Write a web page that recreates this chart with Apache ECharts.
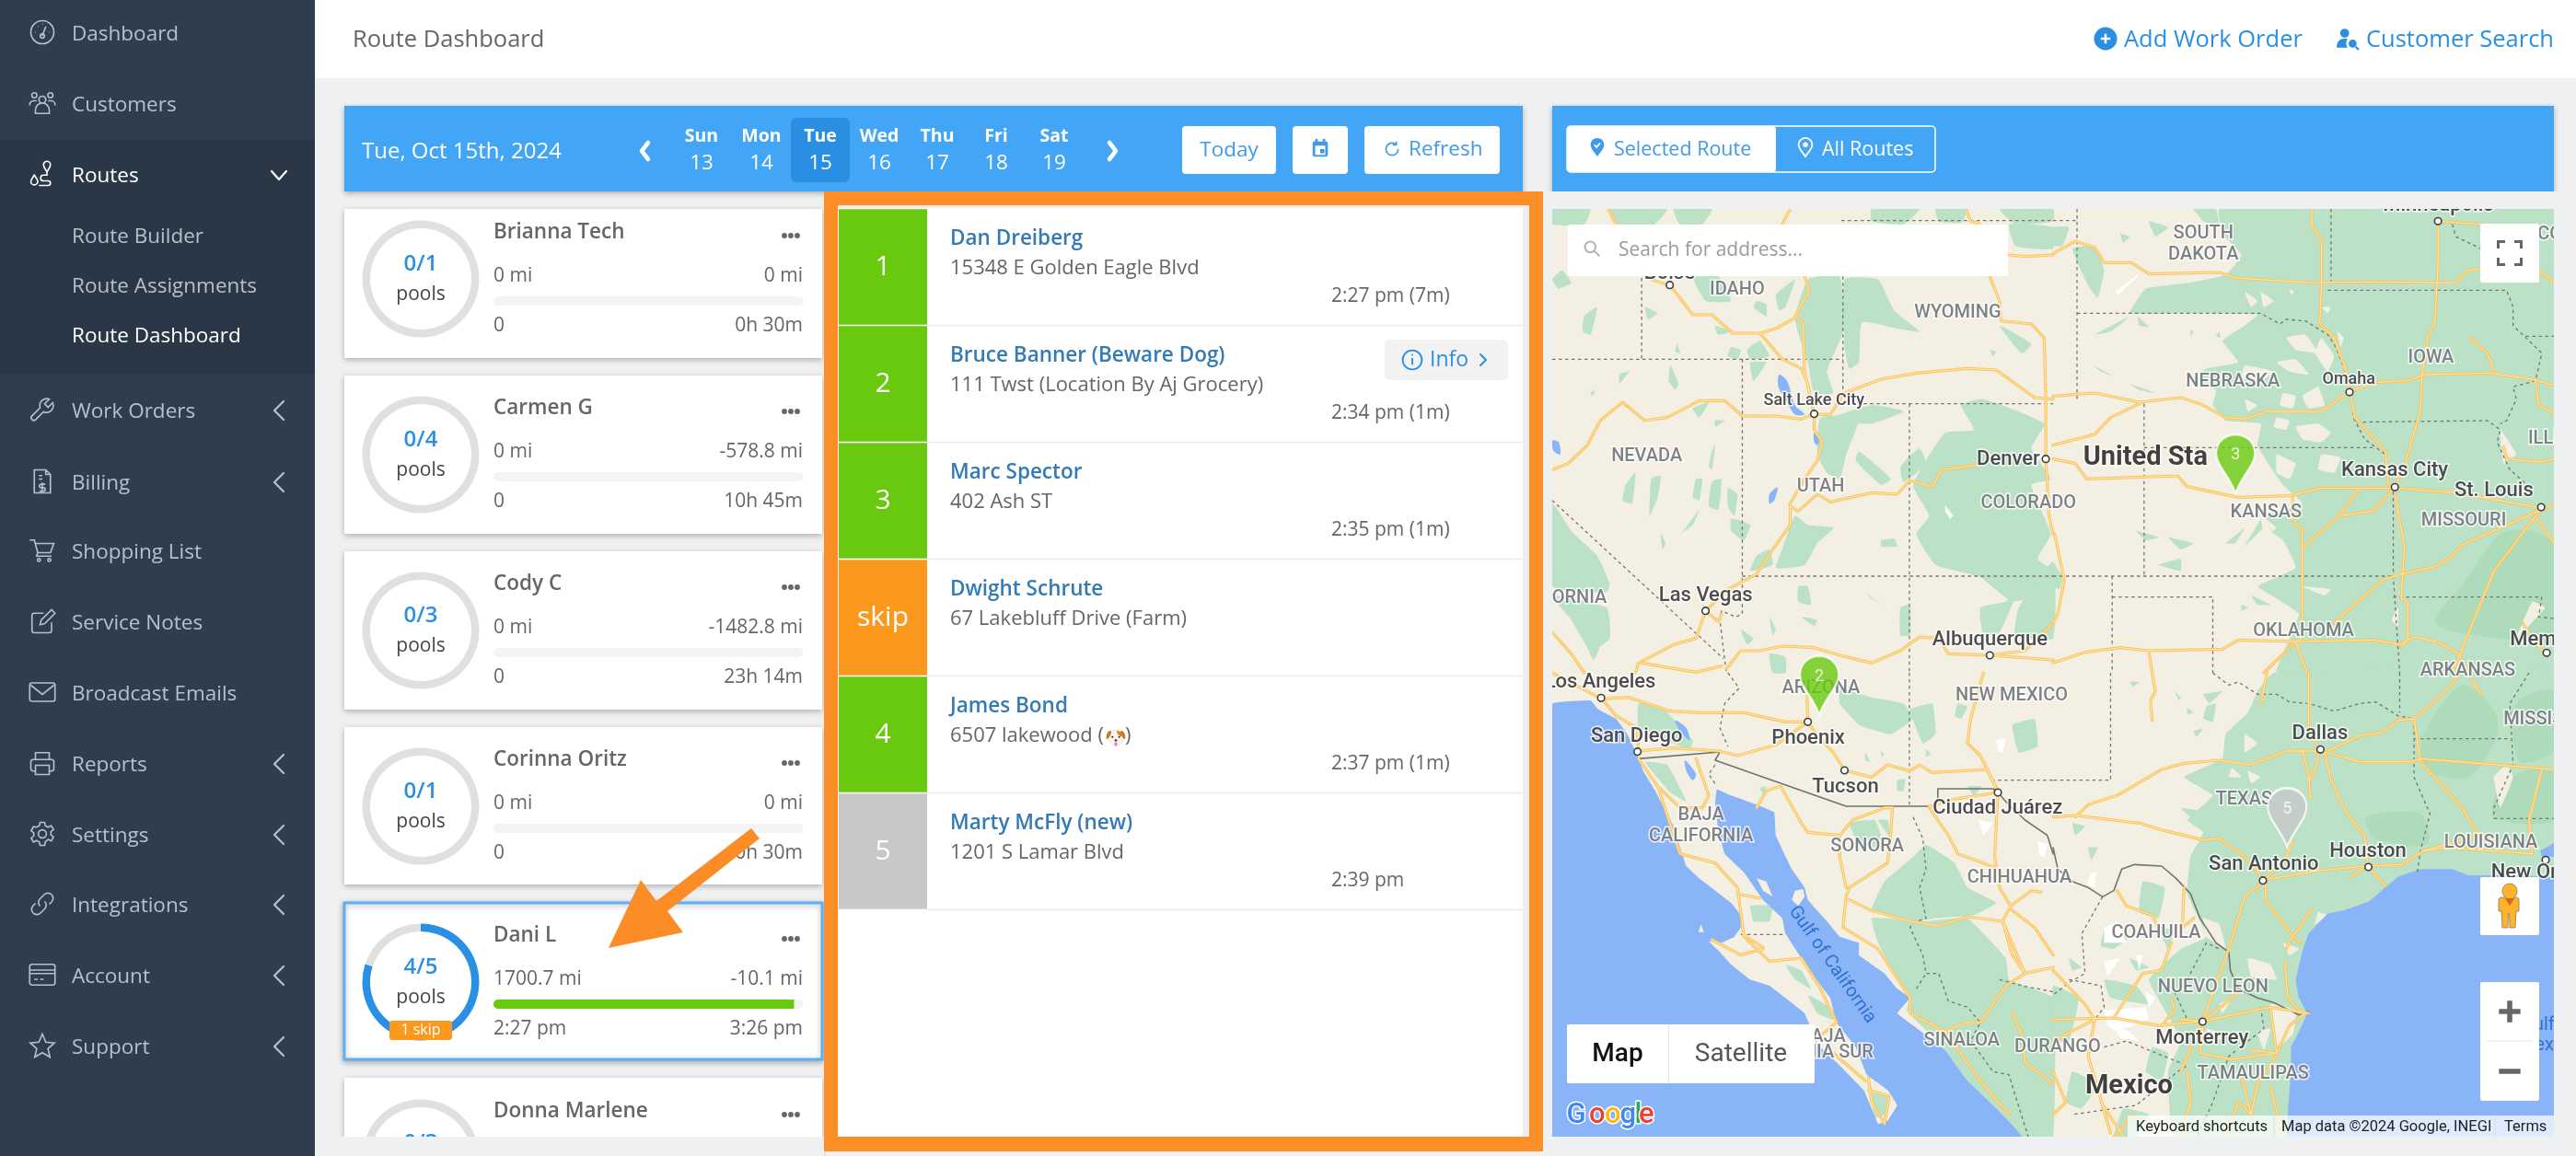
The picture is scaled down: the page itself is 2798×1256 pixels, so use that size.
<!DOCTYPE html>
<html>
<head>
<meta charset="utf-8">
<title>Route Dashboard</title>
<style>html,body{margin:0;padding:0;background:#eff0f1}#main{width:2798px;height:1256px}</style>
<script src="https://cdn.jsdelivr.net/npm/echarts@6/dist/echarts.min.js"></script>
</head>
<body>
<div id="main"></div>
<script>
// sidebar
var navLabels=['Dashboard','Customers','Routes','Route Builder','Route Assignments','Route Dashboard','Work Orders','Billing','Shopping List','Service Notes','Broadcast Emails','Reports','Settings','Integrations','Account','Support'];
// week strip
var dayNames=['Sun','Mon','Tue','Wed','Thu','Fri','Sat'];
var dayNums=['13','14','15','16','17','18','19'];
// route cards
var drivers=['Brianna Tech','Carmen G','Cody C','Corinna Oritz','Dani L','Donna Marlene'];
var poolsDone=[0,0,0,0,4,0];
var poolsTotal=[1,4,3,1,5,3];
var milesDone=['0 mi','0 mi','0 mi','0 mi','1700.7 mi',''];
var milesLeft=['0 mi','-578.8 mi','-1482.8 mi','0 mi','-10.1 mi',''];
var timeStart=['0','0','0','0','2:27 pm',''];
var timeEnd=['0h 30m','10h 45m','23h 14m','0h 30m','3:26 pm',''];
var routeProgress=[0,0,0,0,97,0];
// stops of the selected route
var stopOrder=['1','2','3','skip','4','5'];
var stopCell=[1,1,1,1,1,1];
var stopColors=['#69c90e','#69c90e','#69c90e','#fb991e','#69c90e','#c8c8c8'];
var stopNames=['Dan Dreiberg','Bruce Banner (Beware Dog)','Marc Spector','Dwight Schrute','James Bond','Marty McFly (new)'];
var stopAddress=['15348 E Golden Eagle Blvd','111 Twst (Location By Aj Grocery)','402 Ash ST','67 Lakebluff Drive (Farm)','6507 lakewood (','1201 S Lamar Blvd'];
var stopTimes=['2:27 pm (7m)','2:34 pm (1m)','2:35 pm (1m)','','2:37 pm (1m)','2:39 pm'];
// map pins, lon / lat
var pinLabels=['3','2','5'];
var pinLon=[-99.32,-111.74,-97.78];
var pinLat=[39.15,33.73,30.49];
var pinColors=['#69c90e','#69c90e','#c8c8c8'];
// map labels, lon / lat
var stateNames=['SOUTH\nDAKOTA','IDAHO','WYOMING','IOWA','NEBRASKA','NEVADA','UTAH','COLORADO','KANSAS','MISSOURI','ILLINOIS','WISCONSIN','ORNIA','OKLAHOMA','ARKANSAS','ARIZONA','NEW MEXICO','MISSISSIPPI','TEXAS','BAJA\nCALIFORNIA','SONORA','CHIHUAHUA','LOUISIANA','COAHUILA','NUEVO LEON','SINALOA','DURANGO','BAJA','CALIFORNIA SUR','TAMAULIPAS'];
var stateLon=[-100.28,-114.19,-107.61,-93.49,-99.40,-116.89,-111.70,-105.50,-98.41,-92.51,-89.51,-89.79,-118.90,-97.29,-92.39,-111.69,-106.00,-89.76,-99.07,-115.27,-110.31,-105.77,-91.70,-101.69,-99.99,-107.49,-104.63,-111.64,-112.27,-98.80];
var stateLat=[45.16,44.03,43.48,42.36,41.79,39.95,39.21,38.80,38.58,38.38,40.38,45.39,36.50,35.69,34.70,34.29,34.10,33.51,31.55,30.92,30.40,29.63,30.49,28.30,26.95,25.65,25.49,25.74,25.35,24.85];
var cityNames=['Denver','Kansas City','St. Louis','Minneapolis','Boise','Las Vegas','Albuquerque','Memphis','Los Angeles','San Diego','Phoenix','Dallas','Tucson','Ciudad Juárez','Houston','San Antonio','New Orleans','Monterrey'];
var cityLon=[-106.10,-94.57,-91.61,-93.27,-116.21,-115.13,-106.65,-89.87,-118.28,-117.19,-112.07,-96.80,-110.96,-106.42,-95.37,-98.48,-89.98,-100.32];
var cityLat=[39.88,39.60,39.12,46.10,44.44,36.55,35.46,35.46,34.43,33.10,33.05,33.17,31.87,31.34,30.28,29.96,29.76,25.72];
var townNames=['Salt Lake City','Omaha'];
var townLon=[-111.90,-95.94];
var townLat=[41.32,41.85];
var bigNames=['United Sta','Mexico'];
var bigLon=[-102.01,-102.50];
var bigLat=[39.92,24.54];

// A top left, B top right, C bottom left, D bottom right
var greenA=[
 [800,230,900,220,910,400,860,530,880,600,820,600,800,500,760,360],[915,230,1020,230,1070,330,1150,400,1080,390,970,370,960,500,930,520,915,450],[840,680,960,680,920,800,900,880,860,860,830,800],[850,690,1000,640,1100,660,1000,700,950,700],[960,790,1060,880,1030,900,950,820],[1090,840,1150,780,1170,830,1100,890],
 [1280,640,1350,620,1540,700,1500,780,1560,880,1500,900,1560,1060,1520,1140,1568,1180,1568,1240,1440,1280,1340,1200,1200,1160,1140,1060,1180,1000,1130,900,1230,730,1320,720],
 [720,1110,760,1000,800,1030,880,1040,830,1090,790,1160,700,1170],[640,1130,680,1110,690,1160,620,1180],[1030,1080,1070,1075,1080,1100,1030,1100],
 [500,790,510,770,500,850,490,840],[230,900,260,860,250,960,220,950],[310,880,340,870,330,940,305,1000],[450,880,470,880,460,950,440,940],[500,890,530,880,520,980,490,970],[550,910,580,930,570,1000,550,970],[560,1010,620,1030,600,1080,560,1050],[410,1050,460,980,440,1030,400,1060],[340,1060,355,1090,345,1110],[210,540,240,530,210,570],[370,510,395,570,385,590,365,560],[120,600,135,590,125,610],[440,650,490,630,460,680],[510,690,540,690,510,710],
 [290,320,330,340,300,360],[100,350,140,320,120,410,95,400],[640,300,670,310,670,350,630,320],[510,380,560,400,520,410],[390,440,400,470,385,465],[560,450,590,460,580,490,550,480],[610,460,650,430,680,480,620,490],[620,500,670,500,630,560],[440,220,520,220,560,300,480,300],[700,280,760,230,730,320,710,330],[0,230,30,200,60,240,20,260],
 [0,0,120,0,100,50,0,50],[180,0,360,0,320,50,200,50],[380,0,500,0,470,50,400,50],[1000,0,1150,0,1100,50,1000,40],[1200,0,1300,0,1280,45,1210,40],[1400,0,1568,0,1568,40,1450,50],[1430,50,1568,60,1568,130,1450,120],[1400,380,1500,440,1470,470],[1370,460,1390,465,1380,480],
 [0,960,60,1050,140,1130,180,1220,170,1250,0,1230],[0,1260,170,1300,180,1400,120,1440,60,1340],[100,1400,150,1420,130,1470],[770,1230,800,1230,810,1290,770,1280],[780,1330,830,1340,820,1360],[680,1330,700,1370,690,1390],[1090,1300,1120,1290,1120,1390,1090,1390],[680,1450,730,1460,730,1512,690,1512],[590,1370,630,1400,610,1420],[980,1250,1030,1290,1000,1270],[1340,1300,1420,1280,1450,1260,1400,1380,1350,1390],[1460,1300,1568,1150,1568,1400,1450,1390]
];
var greenB=[
 [520,0,1568,0,1568,1512,700,1512,740,1400,770,1320,700,1270,640,1230,760,1170,720,1080,660,1040,600,1100,660,1000,780,960,720,900,680,840,640,770,650,700,540,690,500,640,510,590,430,560,480,520,580,500,530,430,600,380,640,345,400,340,240,340,290,260,430,240,540,215,590,150,530,80],
 [0,60,50,60,30,120,0,120],[60,130,130,120,160,200,140,290,110,250],[130,410,240,350,180,400],[210,80,240,90,220,110],[300,40,360,60,320,90],[440,0,510,0,520,60,470,40],[125,510,190,545,150,530],[240,570,320,600,270,590],[360,1070,440,1090,400,1110],[260,1050,330,1070,290,1080],[330,1160,400,1140,400,1180],[540,1090,600,1040,570,1090],[620,1260,680,1290,640,1290],[590,1290,610,1300,590,1310],[0,1150,30,1200,20,1240,0,1230],[430,395,440,400,430,415],[520,400,525,420,510,415],[265,350,300,385,270,380]
];
var darkB=[[1300,1200,1400,1060,1500,1050,1568,1100,1568,1400,1400,1400,1200,1350]];
var beigeB=[[730,420,790,410,830,470,760,460],[840,420,880,480,860,530,820,470],[700,500,760,490,800,540,740,530],[600,510,690,530,640,570,590,550],[780,610,830,580,850,640,800,650],[720,600,760,610,750,650,710,640],[600,620,640,640,610,660],[760,710,830,700,840,760,780,750],[700,680,740,690,730,720,690,710],[830,700,870,730,840,760],[700,800,760,830,740,880,700,860],[840,800,900,810,880,860,830,850],[890,400,910,420,900,450],[840,320,870,320,860,340],[600,270,640,300,620,320],[650,270,690,300,660,320],[740,260,755,270,745,280],[650,1000,700,1040,660,1060],[780,1230,870,1240,850,1260],[1400,720,1450,800,1410,830],[1500,1280,1540,1300,1450,1400],[1080,1300,1060,1340,1080,1360]];
var greenC=[
 [1000,770,1040,680,1130,600,1170,560,1260,620,1300,700,1390,750,1320,790,1200,800,1130,810,1060,790],[1000,800,1170,810,1300,800,1420,930,1430,1000,1568,1060,1568,1512,1470,1512,1300,1330,1230,1230,1110,1100,1120,1060,1060,960,1020,880],
 [900,50,1000,80,1100,100,1130,150,1060,200,960,170,900,100],[1120,120,1190,100,1200,200,1160,230],[1440,170,1510,150,1520,240,1460,260],[1270,100,1300,110,1280,150,1260,140],[620,760,690,760,680,810,630,810],[730,950,780,970,810,1030,760,1000],[800,1050,870,1090,880,1130,830,1110],[1000,1370,1050,1380,1040,1440,1010,1450],[290,290,360,300,420,420,370,390],[930,490,1010,480,1040,570,960,560],[1020,480,1050,480,1060,540],[270,100,340,110,440,220,430,250,270,180],[1080,350,1105,345,1100,385,1080,385],[650,375,670,370,660,395],[980,260,995,290,980,285],[1030,255,1040,265,1030,275],[1170,250,1185,265,1170,275],[1300,370,1345,370,1320,400]
];
var greenD=[
 [690,0,1568,0,1568,800,780,1512,380,1512,360,1300,400,1200,350,1100,300,1000,400,900,480,860,420,720,430,600,470,520,420,480,500,400,410,340,530,280,540,200,610,130,640,60],
 [240,30,270,30,250,45],[470,70,530,60,490,100],[380,60,400,80,395,90],[480,110,510,100,500,160,470,150],[420,115,440,130,420,135],[440,190,470,180,450,210],[400,440,460,450,430,470],[60,490,100,500,70,530],[110,570,140,570,120,610],[280,680,350,700,330,800,270,780],[160,840,240,860,190,900,150,890],[50,930,90,960,60,970],[240,930,300,960,260,970],[330,830,380,840,360,900],[0,1020,80,1060,50,1200,0,1200],[160,1000,260,1020,300,1080,180,1060],[60,1300,140,1340,90,1420,40,1400],[220,1420,300,1440,260,1512,190,1512],[310,1220,360,1240,340,1330,290,1300]
];
var darkD=[[1160,200,1280,40,1380,120,1390,200,1300,340,1160,310],[980,470,1150,460,1170,560,1010,540],[1450,100,1568,60,1568,250,1460,290],[1400,370,1500,310,1568,320,1568,480,1380,470]];
var beigeD=[[610,930,680,950,700,1000,620,990],[470,800,520,820,540,900,480,860],[680,1080,760,1100,750,1180,700,1220],[540,610,580,620,560,650],[560,310,590,340,550,340],[610,320,650,340,620,360],[720,880,770,900,740,920],[1380,340,1420,300,1440,340,1400,440],[600,200,640,230,600,260],[830,780,860,790,820,820],[520,1080,560,1060,530,1110],[640,1170,680,1160,660,1230],[480,1160,540,1180,500,1210]];
var whiteD=[[160,830,200,810,230,880,160,880],[160,1100,290,1090,300,1130,200,1170,170,1150],[190,1150,240,1170,270,1200,210,1190],[120,655,135,650,130,700,105,690],[260,920,280,920,270,970],[160,940,210,930,170,990],[290,1040,320,1060,300,1090]];
var whiteC=[[1390,220,1420,215,1410,260,1395,255],[1335,480,1380,490,1350,530],[1520,550,1550,560,1540,600,1525,590]];
var whiteB=[[195,270,270,210,265,220,205,280]];
var whiteA=[[1230,965,1255,1000,1245,1010,1230,985]];
var pacific=[0,100,120,90,145,120,200,150,235,200,265,265,285,320,320,380,350,440,385,510,400,570,420,630,460,670,510,710,560,750,590,790,590,830,570,860,530,880,490,875,520,905,560,950,620,1000,680,1020,730,1060,790,1110,830,1210,900,1280,975,1360,1000,1420,1020,1470,1050,1460,1080,1410,1050,1360,985,1310,950,1220,890,1140,870,1060,820,990,780,930,730,850,720,800,660,740,600,650,540,590,520,510,510,430,515,380,560,400,640,430,695,455,700,530,750,640,790,700,800,740,860,810,900,860,960,880,960,920,1040,980,1080,1030,1120,1060,1080,1110,1130,1150,1230,1230,1300,1330,1390,1420,1470,1512,0,1512];
var islandsC=[[640,670,670,680,690,730,660,710],[760,710,785,705,790,730,770,760,750,740],[465,820,475,845,458,845]];
var gulfD=[1568,670,1400,660,1300,660,1250,640,1150,640,1080,665,1040,700,990,745,910,775,860,785,800,850,780,910,760,1000,770,1060,795,1110,770,1170,745,1220,745,1300,735,1512,1568,1512];
var lakeD=[[1525,580,1568,555,1568,600,1530,600]];
var lakesA=[[710,540,735,560,760,640,790,670,760,670,730,620,708,580],[820,730,838,750,830,770,820,760],[680,930,705,908,695,950,680,960],[0,755,20,760,25,800,5,790]];
var lakesC=[[385,155,420,180,430,220,400,190],[415,285,450,330,440,350,420,320]];
var bordersA=[[0,490,910,490],[280,225,280,490],[910,220,910,600],[905,38,1568,38],[975,635,1568,635],[1118,635,1118,1512],[595,490,595,1320,575,1330,530,1310,525,1340,540,1470,545,1512],[595,1197,1568,1197],[0,950,535,1465]];
var bordersB=[[75,0,75,630],[0,38,75,38],[75,340,650,340,710,375,730,360,790,365,860,410,885,450,915,530,935,600,940,680,975,750,1040,800],[285,778,1000,778],[285,635,285,1195],[950,695,1360,690,1400,720,1390,760,1430,850,1490,905],[860,265,1420,265,1440,320,1440,380,1530,470,1510,560,1440,580,1450,620,1420,690,1400,700],[1480,415,1568,415],[0,1197,1065,1197],[1065,900,1065,1197,1085,1512],[185,1197,185,1512],[185,1265,500,1265,500,1512],[1065,1265,1530,1265,1520,1330,1568,1335],[870,0,870,250],[1250,50,1260,90,1340,130]];
var bordersC=[[1130,470,1160,540,1170,640,1150,700,1170,800,1130,815,1120,830,1160,920,1170,980,1210,980,1240,1070,1300,1090,1340,1140,1310,1200,1380,1300,1430,1310,1450,1380,1490,1512],[1400,1000,1470,1020,1568,1040],[1140,1030,1170,980],[590,853,725,853],[550,0,585,50,540,100,525,180,550,240],[510,300,490,330,515,370],[1118,0,1118,430],[1375,350,1568,350]];
var bordersD=[[180,0,180,350,0,350],[500,0,550,40,580,30,640,70,700,70,740,95,800,100,880,125,960,100,1010,95,1080,140,1130,150],[1085,0,1085,130],[1130,215,1430,215],[1130,150,1130,340,1180,460,1150,580,1140,650],[1380,475,1568,475],[1490,0,1430,100,1440,300,1380,440,1380,475],[155,730,90,850,100,980,50,1010,0,1050],[50,1000,150,1020,160,1090,130,1130],[160,1220,230,1200,300,1230,420,1280,390,1300,260,1410,60,1440],[380,1040,420,1130],[420,1000,480,880,520,900],[650,1090,660,1160,550,1250,500,1400,450,1512]];
var mexBorderC=[270,280,525,258,510,285,920,435,1190,435,1207,410,1207,378,1380,378,1395,390,1420,420,1480,480,1550,530,1568,590];
var mexBorderD=[0,570,15,640,60,680,110,700,155,730,190,710,215,640,255,625,340,630,385,670,430,720,460,800,510,880,550,910,555,970,580,1030,640,1060,690,1075,770,1115,800,1105];
var roadsA=[
 [0,850,50,830,110,770,150,690,220,630,290,690,360,680,460,625,540,625,595,675,700,675,780,685,820,670,870,670,915,600,1030,555,1140,535,1300,520,1390,525,1510,615,1568,620],
 [310,230,370,250,440,345,500,345,565,405,650,405,700,390,760,355],[650,405,720,490,780,520,800,570,820,670],
 [790,220,805,265,760,350,785,370,790,530,820,670,820,720,845,760,830,820,790,880,745,960,745,1030,690,1110,640,1190,550,1240,480,1310,450,1400,380,1420,270,1480,260,1512],
 [745,970,770,985,830,930,870,955,1000,925,1080,930,1120,885,1190,905,1220,850,1330,835],[1370,220,1400,300,1405,365,1500,375,1540,420,1545,620,1545,810,1555,1000,1568,1060],
 [1430,150,1480,155,1568,150],[1295,0,1310,40,1340,50],[175,0,200,50],[720,50,745,0],[0,1380,60,1450,100,1512],[280,1480,450,1510,530,1490],
 [545,1500,590,1440,650,1440,720,1425,820,1430,920,1460,1000,1480,1090,1440,1150,1395,1210,1400,1240,1450,1370,1455,1568,1470],[1568,1350,1480,1440,1370,1455],[480,1310,520,1345,530,1320]
];
var roadsB=[
 [0,145,70,105,130,125,160,175,245,175,300,212,520,207,570,225,800,240,1040,238,1200,240,1260,240,1300,200,1340,195],[1520,200,1568,240],
 [0,610,130,600,270,630,400,615,460,635,540,680,600,685,670,660,840,660,920,600],[940,590,1010,565,1110,560,1160,540,1370,535,1500,555,1568,575],[0,770,130,735,180,680,280,630],
 [0,815,70,830,105,880,390,870,420,905,580,940,740,935,840,910,960,910,1070,910,1260,925,1530,975],[810,0,810,55,840,100,840,250,835,375,880,420,915,520,930,595,945,680,1040,790,1050,900],
 [1205,40,1205,180,1195,370,1175,410,1155,545,1150,660,1130,730,1100,840,1070,905],[1070,930,1100,1100,1090,1270,1110,1280,1110,1400,1090,1430],[955,915,900,995,780,1105,780,1400,760,1410,795,1512],[900,1000,1000,985,1060,920],[750,940,750,1010,780,1050,780,1105],
 [1090,1190,1200,1165,1250,1130,1280,1095,1420,1030,1520,985],[880,1350,1030,1210,1090,1190],[0,1480,100,1445,210,1430,300,1440,530,1435,580,1405,760,1410,1000,1405,1085,1420,1130,1395,1200,1410,1270,1450,1300,1512],
 [1205,40,1340,50],[1305,420,1360,470,1380,530],[1410,775,1420,815,1530,825,1568,815],[1510,560,1520,640,1568,665],[1530,985,1568,960],[1515,1010,1568,1090],[1470,1350,1500,1400,1540,1450],[300,1440,310,1512],[660,1512,760,1410],[5,1060,35,1210,15,1320,0,1350],[1530,975,1380,1180,1250,1512]
];
var roadsC=[
 [155,85,240,80,370,125,460,130,600,130,730,160,800,160],[800,160,830,205,880,260,915,318,1000,340,1050,300,1120,320,1150,300,1190,325,1360,315,1395,385],[270,255,380,245,520,255,580,270,700,235,800,160],[155,85,200,140,265,180,270,255],[800,160,795,0],[1350,0,1310,150,1300,230,1340,270,1395,385],
 [1395,390,1270,410,1180,435],[270,280,330,370,400,440,470,440,490,400,450,280],[330,370,400,590,510,620,580,700,600,860,680,940,780,930,840,1030,890,1140,820,1200],[580,720,650,735],[500,870,590,920,660,900],[600,855,660,895],
 [640,440,670,385,715,370,780,490,800,520,900,530,940,480,1040,440,1065,440,1060,520,1050,620,930,700,920,730,910,830,1020,900,1120,1060,1120,1110,1230,1170,1340,1330,1430,1440],[900,530,900,600,920,700],[930,740,1000,775,1120,810,1210,825,1300,795,1410,810],[1180,440,1240,530,1270,590,1350,620,1395,640],[1395,390,1385,600,1400,700,1435,760,1410,810,1480,980],[1435,760,1500,710,1530,715],[1435,770,1510,830,1568,920],[1480,980,1568,960],[1410,810,1440,920,1480,980,1420,1020,1340,1140,1290,1140,1230,1170],[1440,1110,1470,1180,1480,1270,1568,1340],[990,1320,1000,1400,1040,1470,1055,1380,990,1360],[880,1240,980,1330],[155,85,0,0]
];
var roadsD=[
 [70,470,110,430,200,400,340,315,410,295,520,285,620,300,730,255,840,255,960,290,1120,290,1150,280,1450,305,1568,315],[0,470,70,465,270,490,350,515,470,545,520,540,600,600,660,675,830,645,985,630,1090,625,1160,580,1330,530,1380,550],[1160,580,1230,570,1500,590],
 [800,0,800,180,835,250,820,320,800,350],[780,250,800,330,805,410],[750,550,720,620,660,675],[660,680,600,730,550,900,470,1130,400,1300],[850,260,870,350,920,460,975,530,985,630],[930,665,985,630,1040,695],[665,680,665,740,750,860,810,770],[730,900,750,860,775,880],[725,940,735,1060,780,1110],
 [860,255,960,205,1030,195,1080,155,1130,150,1230,60,1270,10],[1130,150,1150,290,1280,440,1330,525],[1530,315,1490,480,1500,590],[670,0,650,100],[310,0,320,60,305,90,310,155],[1310,20,1340,70],
 [0,1130,190,1125,330,1150,470,1135,680,1090,800,1110],[400,1130,470,1135,560,1060,580,1040],[190,1125,280,980,340,970,370,880],[440,800,405,830,410,700],[200,710,230,760,310,790,330,830],[0,970,100,1080,130,1130,110,1250,180,1500],[340,1150,380,1100,370,1060],[470,1140,460,1240,560,1260,700,1240,740,1150,790,1110],[680,1090,700,1240,620,1230],[700,1250,640,1340,620,1440],[590,1320,620,1440,580,1400,540,1512],[130,1130,0,1200],[420,1300,430,1400,400,1512],[680,1350,720,1512],[0,1300,40,1400,0,1440],[250,1440,190,1512],[150,1400,220,1512]
];
var dotsA=[368,248,480,1310,820,668,1370,1455,1545,815];
var dotsB=[1205,40,928,597,1070,907,1528,972,1545,1447];
var dotsC=[153,82,800,160,267,257,915,318,1395,390];
var dotsD=[837,250,987,633,657,677,1542,610,468,1137];

function crop(ox,oy){
  return function(a){var r=[];for(var i=0;i<a.length;i+=2){r.push([ox+a[i]/2.882,oy+a[i+1]/3]);}return r;};
}
var qA=crop(1686,227),qB=crop(2230,227),qC=crop(1686,731),qD=crop(2230,731);

var FONT='"Open Sans"';
var els=[];
function rect(x,y,w,h,fill,z,extra){
  var s={fill:fill};
  var e={type:'rect',z:z||0,shape:{x:x,y:y,width:w,height:h,r:(extra&&extra.r)||0},style:s,silent:true};
  if(extra){for(var k in extra){if(k!='r'){s[k]=extra[k];}}}
  els.push(e);
}
function text(t,x,y,font,fill,align,z,extra){
  var s={text:t,x:x,y:y+1.5,font:font,fill:fill,align:align||'left',verticalAlign:'middle'};
  if(extra){for(var k in extra){s[k]=extra[k];}}
  els.push({type:'text',z:z||1,style:s,silent:true});
}
function line(pts,stroke,w,z,dash){
  var s={stroke:stroke,lineWidth:w,fill:null,lineJoin:'round',lineCap:'round'};
  if(dash){s.lineDash=dash;s.lineCap='butt';}
  els.push({type:'polyline',z:z||1,shape:{points:pts},style:s,silent:true});
}
function poly(pts,fill,z,smooth){
  els.push({type:'polygon',z:z||0,shape:{points:pts,smooth:smooth||0},style:{fill:fill},silent:true});
}
function circle(x,y,r,fill,z,stroke,lw){
  els.push({type:'circle',z:z||1,shape:{cx:x,cy:y,r:r},style:{fill:fill,stroke:stroke||null,lineWidth:lw||0},silent:true});
}

// ---- left menu ----
rect(0,0,342,1256,'#2f3e4f',0);
rect(0,152,342,254,'#293747',0);
var navY=[36,113,190,256,310,364,446,524,599,676,753,830,907,983,1060,1137];
navLabels.forEach(function(n,i){
  var on=(n=='Routes'||n=='Route Dashboard');
  text(n,78,navY[i],'400 22.5px '+FONT,on?'#ffffff':'#b7c0ca');
});
[446,524,830,907,983,1060,1137].forEach(function(y){line([[308,y-10],[298,y],[308,y+10]],'#b7c0ca',2.2);});
line([[295,186],[303,195],[311,186]],'#ffffff',2.2);

// ---- header ----
rect(342,0,2456,85,'#ffffff',0);
text('Route Dashboard',383,42,'400 25.5px '+FONT,'#666666');
text('Add Work Order',2307,42,'400 25.5px '+FONT,'#2a8fe3','left');
text('Customer Search',2570,42,'400 25.5px '+FONT,'#2a8fe3','left');

// ---- top blue bars ----
var barShadow={shadowBlur:6,shadowColor:'rgba(0,0,0,.3)',shadowOffsetY:2};
rect(374,115,1280,93,'#42a5f5',0,barShadow);
rect(1686,115,1088,93,'#42a5f5',0,barShadow);
text('Tue, Oct 15th, 2024',393,164,'400 24px '+FONT,'#ffffff');
line([[704,155],[697,164],[704,173]],'#ffffff',4.5);
line([[1205,155],[1212,164],[1205,173]],'#ffffff',4.5);
rect(859,128,64,70,'#2a8fe3',0,{r:6});
var dayX=[762,827,891,955,1018,1082,1145];
dayNames.forEach(function(d,i){
  text(d,dayX[i],147,'700 19.5px '+FONT,'#ffffff','center');
  text(dayNums[i],dayX[i],176,'400 22.5px '+FONT,'#ffffff','center');
});
rect(1284,137,102,52,'#ffffff',1,{r:4});
rect(1404,137,60,52,'#ffffff',1,{r:4});
rect(1482,137,147,52,'#ffffff',1,{r:4});
text('Today',1335,162,'400 22.5px '+FONT,'#3f9ae8','center',2);
text('Refresh',1530,161,'400 22.5px '+FONT,'#3f9ae8','left',2);
rect(1702,137,227,50,'#ffffff',1,{r:4});
rect(1702,137,400,50,'rgba(0,0,0,0)',1,{r:4,stroke:'#ffffff',lineWidth:1.5});
text('Selected Route',1753,161,'400 21.5px '+FONT,'#3f9ae8','left',2);
text('All Routes',1979,161,'400 21.5px '+FONT,'#ffffff','left',2);

// ---- route cards ----
var cardTop=[227,408,599,790,981,1171];
var cardH=[162,172,172,171,170,120];
drivers.forEach(function(d,i){
  var off=191*i;
  var st={shadowBlur:6,shadowColor:'rgba(0,0,0,.28)',shadowOffsetY:2};
  if(i==4){st.stroke='#5bb0f7';st.lineWidth=3;}
  rect(374,cardTop[i],519,cardH[i],'#ffffff',0,st);
  text(d,536,251+off,'600 22.5px '+FONT,'#666666');
  [-7,0,7].forEach(function(dx){circle(859+dx,256+off,2.9,'#666666');});
  text(poolsDone[i]+'/'+poolsTotal[i],457,286+off,'600 24px '+FONT,'#2a8fe3','center');
  text('pools',457,319+off,'400 21px '+FONT,'#444444','center');
  if(i<5){
    text(milesDone[i],536,299+off,'400 21px '+FONT,'#666666');
    text(milesLeft[i],872,299+off,'400 21px '+FONT,'#666666','right');
    text(timeStart[i],536,353+off,'400 21px '+FONT,'#666666');
    text(timeEnd[i],872,353+off,'400 21px '+FONT,'#666666','right');
  }
});
rect(423,1109,68,21,'#fb991e',3,{r:3});
text('1 skip',457,1118,'400 16px '+FONT,'#ffffff','center',4);

// ---- stop list ----
rect(895,208,781,1043,'#fd8d27',0);
rect(910,223,751,1012,'#eeeeee',0);
rect(911,226,743,1009,'#ffffff',0);
stopNames.forEach(function(n,i){
  var off=127*i;
  text(n,1032,258+off,'600 22.5px '+FONT,'#337ab7');
  text(stopAddress[i],1032,290+off,'400 22px '+FONT,'#666666');
  text(stopTimes[i],1446,321+off,'400 21px '+FONT,'#666666');
  line([[1007,353.5+off],[1654,353.5+off]],'#e9e9e9',1.5);
});
text(')',1222,798,'400 22px '+FONT,'#666666');
rect(1504,369,134,44,'#f2f2f2',1,{r:5});
text('Info',1553,390,'400 23px '+FONT,'#2a8fe3','left',2);
line([[1608,385],[1614,391],[1608,397]],'#2a8fe3',2,2);

// ---- map background ----
var green='#bbe2c6',greenDark='#aedcbb',beige='#f4efe3',water='#8ab4f8';
rect(1686,227,1088,1008,beige,0);
function paint(list,q,fill,smooth){list.forEach(function(a){poly(q(a),fill,0,smooth);});}
paint(greenA,qA,green,0.15);paint(greenB,qB,green,0.1);paint(greenC,qC,green,0.1);paint(greenD,qD,green,0.1);
paint(darkB,qB,greenDark,0.3);paint(darkD,qD,greenDark,0.3);
paint(beigeB,qB,beige,0.1);paint(beigeD,qD,beige,0.1);
paint(whiteA,qA,'#ffffff');paint(whiteB,qB,'#ffffff');paint(whiteC,qC,'#ffffff');paint(whiteD,qD,'#ffffff');
poly(qC(pacific),water,0,0.05);
paint(islandsC,qC,beige);
poly(qD(gulfD),water,0,0.05);
paint(lakeD,qD,water);paint(lakesA,qA,water,0.3);paint(lakesC,qC,water,0.3);
function dash(list,q){list.forEach(function(a){line(q(a),'#75756f',1.3,0,[3.5,3.5]);});}
dash(bordersA,qA);dash(bordersB,qB);dash(bordersC,qC);dash(bordersD,qD);
line(qC(mexBorderC),'#70736f',1.6,0);
line(qD(mexBorderD),'#70736f',1.6,0);
function road(list,q){list.forEach(function(a){line(q(a),'#fbc45c',3.2,0);});list.forEach(function(a){line(q(a),'#fdeab8',1,0);});}
road(roadsA,qA);road(roadsB,qB);road(roadsC,qC);road(roadsD,qD);
qA(dotsA).concat(qB(dotsB),qC(dotsC),qD(dotsD)).forEach(function(p){circle(p[0],p[1],3.8,'#ffffff',0,'#3c4043',1.6);});

// covers so the map labels stop at the edge of the map
rect(1676,208,10,1048,'#eff0f1',10);
rect(1686,208,1112,19,'#eff0f1',10);
rect(2774,208,24,1048,'#eff0f1',10);
rect(1686,1235,1112,21,'#eff0f1',10);
rect(342,1235,553,21,'#eff0f1',10);

// ---- map controls ----
rect(1703,244,478,56,'#ffffff',11,{r:3});
text('Search for address...',1758,271,'400 21px '+FONT,'#9a9a9a','left',12);
rect(2694,243,64,64,'#ffffff',11,{r:2});
rect(2694,953,64,63,'#ffffff',11,{r:2});
rect(2694,1067,64,129,'#ffffff',11,{r:2});
line([[2702,1131],[2750,1131]],'#e6e6e6',1,12);
rect(1702,1113,269,64,'#ffffff',11,{r:2});
line([[1812.5,1113],[1812.5,1177]],'#e6e6e6',1,12);
text('Map',1757,1144,'500 28px Roboto','#111111','center',12);
text('Satellite',1891,1144,'400 28px Roboto','#565656','center',12);
rect(2311,1212,463,23,'rgba(255,255,255,.72)',11);
text('Keyboard shortcuts',2320,1223,'400 16.5px Roboto','#222222','left',12);
text('Map data ©2024 Google, INEGI',2478,1223,'400 16.5px Roboto','#222222','left',12);
text('Terms',2720,1223,'400 16.5px Roboto','#222222','left',12);
line([[2470,1212],[2470,1235]],'#dddddd',1,12);
line([[2710,1212],[2710,1235]],'#dddddd',1,12);
var googleLetters=['G','o','o','g','l','e'];
var googleColors=['#4285f4','#ea4335','#fbbc05','#4285f4','#34a853','#ea4335'];
var googleX=[1701.5,1726,1743,1759.5,1775.5,1780];
googleLetters.forEach(function(c,i){
  text(c,googleX[i],1211,'500 31px Roboto',googleColors[i],'left',12,{stroke:'#ffffff',lineWidth:3});
});

// ---- orange arrow ----
poly([[661,1030],[696,956],[713,979],[816,900],[825,911],[725,990],[742,1013]],'#fc8c26',30);

// ---- icons, drawn in a 24 box ----
var menuIcons=[
 'M12 2a10 10 0 1 0 0 20a10 10 0 1 0 0-20M12 15l3-8M5.5 12h.5M8 7h.5M12 5h.5M18 12h.5M12 13.5a1.8 1.8 0 1 0 0 3.6a1.8 1.8 0 1 0 0-3.6',
 'M12 6a3 3 0 1 0 0 6a3 3 0 1 0 0-6M5 3a2.2 2.2 0 1 0 0 4.4a2.2 2.2 0 1 0 0-4.4M19 3a2.2 2.2 0 1 0 0 4.4a2.2 2.2 0 1 0 0-4.4M6 21v-3a6 6 0 0 1 12 0v3zM1 14a3.5 3.5 0 0 1 4-4h2M23 14a3.5 3.5 0 0 0-4-4h-2',
 'M16 10c-2-3-3-4-3-6a3 3 0 0 1 6 0c0 2-1 3-3 6zM5 13c-2 3-3 4-3 5.5a3 3 0 0 0 6 0c0-1.5-1-2.5-3-5.5zM16 10v3h-3a2.5 2.5 0 0 0 0 5h4a2 2 0 0 1 0 4h-8',
 null,null,null,
 'M21 6l-4 4-3-3 4-4a6 6 0 0 0-8 7.5L3 17.5a2.2 2.2 0 0 0 3.2 3.2L13 14a6 6 0 0 0 8-8z',
 'M5 2h10l4 4v16H5zM15 2v4h4M9 7h3M9 10h3M12 13v7M14.5 14.5h-3.5a1.5 1.5 0 0 0 0 3h2a1.5 1.5 0 0 1 0 3h-3.5',
 'M1 3h4l3 11h11l3-8H6M8 14l-1 3h13M9 19a1.3 1.3 0 1 0 0 2.6a1.3 1.3 0 1 0 0-2.6M18 19a1.3 1.3 0 1 0 0 2.6a1.3 1.3 0 1 0 0-2.6',
 'M20 13v7a2 2 0 0 1-2 2H5a2 2 0 0 1-2-2V7a2 2 0 0 1 2-2h8M10 15l1-4 9-9 3 3-9 9z',
 'M3 4h18a2 2 0 0 1 2 2v12a2 2 0 0 1-2 2H3a2 2 0 0 1-2-2V6a2 2 0 0 1 2-2zM2 6l10 8 10-8',
 'M6 9V3h12v6M4 9h16a2 2 0 0 1 2 2v6a2 2 0 0 1-2 2h-2M6 19H4a2 2 0 0 1-2-2v-6a2 2 0 0 1 2-2M6 14h12v8H6z',
 'M12 8.5a3.5 3.5 0 1 0 0 7a3.5 3.5 0 1 0 0-7M10 2h4l.6 3 2.4 1.2 2.7-1.4 2 3.4-2.3 2a7 7 0 0 1 0 2.6l2.3 2-2 3.4-2.7-1.4L14.6 19 14 22h-4l-.6-3L7 17.8l-2.7 1.4-2-3.4 2.3-2a7 7 0 0 1 0-2.6l-2.3-2 2-3.4L7 6.2 9.4 5z',
 'M10 14a4.5 4.5 0 0 1 0-6.4l3.6-3.6a4.5 4.5 0 0 1 6.4 6.4l-2 2M14 10a4.5 4.5 0 0 1 0 6.4l-3.6 3.6a4.5 4.5 0 0 1-6.4-6.4l2-2',
 'M3 3h18a2 2 0 0 1 2 2v14a2 2 0 0 1-2 2H3a2 2 0 0 1-2-2V5a2 2 0 0 1 2-2zM1 8h22M1 11h22M5 16h3M10 16h3',
 'M12 2l3 7 7.5.7-5.6 5 1.7 7.3L12 18.2 5.4 22l1.7-7.3-5.6-5L9 9z'
];
function ico(d,cx,cy,size,fill,stroke,lw){
  var k=size/24;
  return {type:'path',x:cx-size/2,y:cy-size/2,scaleX:k,scaleY:k,shape:{pathData:d},style:{fill:fill||'none',stroke:stroke||'none',lineWidth:lw||0}};
}
var iconEls=[];
menuIcons.forEach(function(d,i){
  if(d){iconEls.push(ico(d,46,navY[i]-1,30,null,i==2?'#ffffff':'#b7c0ca',1.3));}
});
var pinPath='M12 1C7 1 4 5 4 9c0 5 5 9 8 14 3-5 8-9 8-14 0-4-3-8-8-8z';
iconEls.push(ico('M12 0a12 12 0 1 0 0 24a12 12 0 1 0 0-24z',2287,42,25,'#2a8fe3'));
iconEls.push(ico('M12 7v10M7 12h10',2287,42,25,null,'#ffffff',2.4));
iconEls.push(ico('M9 2a4.5 4.5 0 1 0 0 9a4.5 4.5 0 1 0 0-9M1 21c0-6 3-9 8-9 1 0 2 .1 3 .5-2 2-2 6 0 8.5zM17 13a4 4 0 1 0 0 8a4 4 0 1 0 0-8z',2550,42,26,'#2a8fe3'));
iconEls.push(ico('M20 20l3 3',2550,42,26,null,'#2a8fe3',2));
iconEls.push(ico('M5 4h14a2 2 0 0 1 2 2v14a2 2 0 0 1-2 2H5a2 2 0 0 1-2-2V6a2 2 0 0 1 2-2zM6 1h3v4H6zM15 1h3v4h-3z',1434,161,22,'#3f9ae8'));
iconEls.push(ico('M6 9h12v11H6z',1434,161,22,'#ffffff'));
iconEls.push(ico('M12 13h5v5h-5z',1434,161,22,'#3f9ae8'));
iconEls.push(ico('M20 12a8 8 0 1 1-3-6.2M17.5 2v4.5h-4.5',1512,162,20,null,'#3f9ae8',2));
iconEls.push(ico(pinPath,1735,160,22,'#3f9ae8'));
iconEls.push(ico('M8.5 9l2.5 3 4.5-5',1735,160,22,null,'#ffffff',1.8));
iconEls.push(ico(pinPath,1961,160,22,'#42a5f5','#ffffff',2));
iconEls.push(ico('M12 6a3 3 0 1 0 0 6a3 3 0 1 0 0-6z',1961,160,22,'#ffffff'));
iconEls.push(ico('M12 2a10 10 0 1 0 0 20a10 10 0 1 0 0-20M12 10v7M12 6v1.5',1534,391,25,null,'#2a8fe3',1.8));
iconEls.push(ico('M10 3a7 7 0 1 0 0 14a7 7 0 1 0 0-14M15 15l7 7',1729,270,20,null,'#b5b5b5',2.5));
iconEls.push(ico('M2 8V2h6M16 2h6v6M2 16v6h6M22 16v6h-6',2726,275,30,null,'#666666',2.4));
iconEls.push(ico('M12 5v14M5 12h14',2726,1099,40,null,'#666666',3.3));
iconEls.push(ico('M5 12h14',2726,1164,40,null,'#666666',3.3));
// pegman
iconEls.push(ico('M12 0a4 4 0 0 1 4 4c0 2-1 3-2 3.5h1.5c1 0 1.5.5 1.5 1.5v6h-1.5l-.5 9h-3l-.2-8h-.6l-.2 8h-3l-.5-9H6V9c0-1 .5-1.5 1.5-1.5H10C9 7 8 6 8 4a4 4 0 0 1 4-4z',2726,984,48,'#fdb32c','#8a7a5a',.4));
iconEls.push(ico('M9.5 8h5l-2.5 4z',2726,984,48,'#d9622b'));
// the dog emoji in the James Bond row
iconEls.push(ico('M12 3a9.5 9.5 0 1 0 0 19a9.5 9.5 0 1 0 0-19z',1212,801,22,'#f7f3ee','#dddddd',.5));
iconEls.push(ico('M13 4c4 0 6 3 6 7-3 0-6-3-6-7z',1212,801,22,'#d98a2b'));
iconEls.push(ico('M5 4C2 5 0 10 1 14c2 1 4-3 5-6 1-2 1-3-1-4zM19 4c3 1 5 6 4 10-2 1-4-3-5-6-1-2-1-3 1-4z',1212,801,22,'#c97a1e'));
iconEls.push(ico('M8 10.5a1.2 1.2 0 1 0 0 2.4a1.2 1.2 0 1 0 0-2.4zM16 10.5a1.2 1.2 0 1 0 0 2.4a1.2 1.2 0 1 0 0-2.4zM12 14.5a1.6 1.2 0 1 0 0 2.4a1.6 1.2 0 1 0 0-2.4z',1212,801,22,'#3a2a20'));
iconEls.push(ico('M10.5 18h3v3a1.5 1.5 0 0 1-3 0z',1212,801,22,'#ef7fa0'));

// ---- chart option ----
var ringSeries=drivers.map(function(d,i){
  return {
    name:d,type:'pie',z:2,silent:true,animation:false,
    center:[457,303+191*i],radius:[55,63.5],startAngle:90,
    label:{show:false},labelLine:{show:false},
    data:[{value:poolsDone[i],itemStyle:{color:'#2a90e5'}},{value:poolsTotal[i]-poolsDone[i],itemStyle:{color:'#e0e0e0'}}]
  };
});
function mapLabels(names,lon,lat){
  return names.map(function(n,i){return {name:n,value:[lon[i],lat[i]]};});
}
function labelSeries(name,data,color,size,weight){
  return {
    name:name,type:'scatter',data:data,symbol:'circle',symbolSize:1,itemStyle:{color:'rgba(0,0,0,0)'},
    xAxisIndex:2,yAxisIndex:2,clip:false,silent:true,animation:false,z:5,
    label:{show:true,position:'inside',formatter:'{b}',fontFamily:'Roboto',fontSize:size,fontWeight:weight,color:color,textBorderColor:'#ffffff',textBorderWidth:3,lineHeight:size+3,align:'center',verticalAlign:'middle'}
  };
}
var option={
  animation:false,
  backgroundColor:'#eff0f1',
  graphic:{elements:els},
  grid:[
    {left:536,top:231.5,width:336.6,height:955},
    {left:911,top:226.5,width:96,height:762},
    {left:1686,top:227,width:1088,height:1008}
  ],
  xAxis:[
    {gridIndex:0,type:'value',min:0,max:100,show:false},
    {gridIndex:1,type:'value',min:0,max:1,show:false},
    {gridIndex:2,type:'value',min:-119.71,max:-89.82,show:false}
  ],
  yAxis:[
    {gridIndex:0,type:'category',data:drivers.slice(0,5),inverse:true,show:false},
    {gridIndex:1,type:'category',data:stopOrder,inverse:true,show:false},
    {gridIndex:2,type:'value',min:23.31,max:46.02,show:false}
  ],
  series:ringSeries.concat([
    {name:'Route progress',type:'bar',xAxisIndex:0,yAxisIndex:0,z:2,silent:true,data:routeProgress.slice(0,5),barWidth:10,
     showBackground:true,backgroundStyle:{color:'#f4f4f4',borderRadius:5},itemStyle:{color:'#69c90e',borderRadius:[5,0,0,5]}},
    {name:'Stops',type:'bar',xAxisIndex:1,yAxisIndex:1,z:2,silent:true,barWidth:125.5,
     data:stopCell.map(function(v,i){return {value:v,itemStyle:{color:stopColors[i]}};}),
     label:{show:true,position:'inside',formatter:function(p){return stopOrder[p.dataIndex];},color:'#ffffff',fontFamily:'Open Sans',fontSize:30}},
    labelSeries('States',mapLabels(stateNames,stateLon,stateLat),'#5f6368',20,500),
    labelSeries('Cities',mapLabels(cityNames,cityLon,cityLat),'#202124',22,500),
    labelSeries('Towns',mapLabels(townNames,townLon,townLat),'#202124',18,500),
    labelSeries('Countries',mapLabels(bigNames,bigLon,bigLat),'#111111',29,700),
    {name:'Gulf',type:'scatter',xAxisIndex:2,yAxisIndex:2,symbolSize:1,itemStyle:{color:'rgba(0,0,0,0)'},silent:true,z:5,clip:false,
     data:[{name:'Gulf of California',value:[-111.36,27.52]},{name:'Gulf of\nMexico',value:[-89.98,25.79]}],
     label:{show:true,position:'inside',formatter:'{b}',color:'#1a62c4',fontFamily:'Roboto',fontSize:20,lineHeight:22,rotate:-55},
     labelLayout:function(p){return p.dataIndex==1?{rotate:0}:{};}},
    {name:'Pins',type:'scatter',xAxisIndex:2,yAxisIndex:2,z:6,silent:true,clip:false,
     symbol:'path://M12 0C5 0 0 5.5 0 13c0 8 8 15 12 27 4-12 12-19 12-27C24 5.5 19 0 12 0z',
     symbolSize:[42,64],symbolOffset:[0,-28],
     data:pinLabels.map(function(n,i){return {name:n,value:[pinLon[i],pinLat[i]],itemStyle:{color:pinColors[i]}};}),
     itemStyle:{borderColor:'#ffffff',borderWidth:2.5},
     label:{show:true,position:'inside',offset:[0,-9],formatter:'{b}',color:'#ffffff',fontFamily:'Roboto',fontSize:18}},
    {name:'Icons',type:'custom',coordinateSystem:'none',z:20,silent:true,data:[[0]],
     renderItem:function(){return {type:'group',children:iconEls};}}
  ])
};
var chart=echarts.init(document.getElementById('main'));
chart.setOption(option);
</script>
</body>
</html>
